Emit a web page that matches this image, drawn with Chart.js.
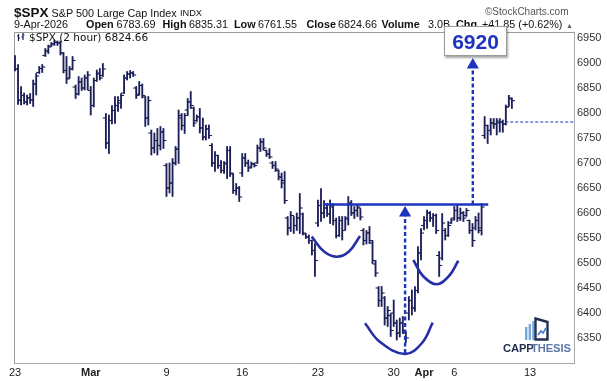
<!DOCTYPE html>
<html><head><meta charset="utf-8">
<script src="https://cdn.jsdelivr.net/npm/chart.js@4.4.1/dist/chart.umd.min.js"></script>
<style>
html,body{margin:0;padding:0;background:#fff;}
#wrap{position:relative;width:607px;height:381px;overflow:hidden;font-family:'Liberation Sans',Arial,sans-serif;}
#c{position:absolute;left:0;top:0;}
.t{position:absolute;white-space:nowrap;line-height:1;color:#111;}
#box{position:absolute;left:444px;top:26px;width:61px;height:28px;background:#fff;border:1px solid #9a9a9a;box-shadow:1px 2px 2px rgba(0,0,0,0.35);z-index:5;text-align:center;font:bold 21px 'Liberation Sans',Arial,sans-serif;color:#1e33c0;line-height:29px;}
</style></head><body>
<div id="wrap"><canvas id="c" width="607" height="381"></canvas>
<div id="box">6920</div>
<svg style="position:absolute;left:17px;top:33px" width="9" height="9"><path d="M1.5 1v7M0 3h1.5M1.5 5h1.5M6 0v7M4.5 4h1.5M6 2h1.5" stroke="#1a1d52" stroke-width="1.2" fill="none"/></svg>
<svg style="position:absolute;left:524px;top:317px" width="26" height="24">
<rect x="1" y="10" width="2.4" height="13" fill="#74a9dc"/><rect x="4.6" y="7" width="2.4" height="16" fill="#74a9dc"/><rect x="8.2" y="4" width="2.4" height="19" fill="#74a9dc"/>
<path d="M11.5 1.5L23.5 5v17.5h-12z" fill="none" stroke="#233050" stroke-width="2.4"/>
<path d="M14 18l3-4 2 2 3-5" fill="none" stroke="#3d7cc9" stroke-width="1.6"/>
</svg>
</div>
<script>
// ---------- data ----------
const tickIdx    = [0, 25, 50, 75, 100, 125, 135, 145, 170];
const tickLabels = ['23', 'Mar', '9', '16', '23', '30', 'Apr', '6', '13'];
const boldLabels = ['Mar', 'Apr'];
const yTicks = [6350, 6400, 6450, 6500, 6550, 6600, 6650, 6700, 6750, 6800, 6850, 6900, 6950];

// 2-hour bars, Feb 23 - Apr 9 2026 (5 bars per trading day)
const opens = [
 6900,6888,6826,6835,6822, 6830,6826,6858,6881,6889, 6915,6924,6934,6938,6941, 6940,6920,6885,6870,6888, 6852,6838,6862,6850,6870,
 6845,6815,6865,6878,6875, 6790,6740,6785,6805,6815, 6820,6840,6870,6878,6880, 6850,6838,6855,6832,6790, 6760,6730,6745,6735,6762,
 6695,6650,6660,6700,6728, 6790,6775,6806,6822,6810, 6785,6792,6770,6752,6768, 6735,6700,6715,6695,6685, 6700,6725,6678,6645,6650,
 6680,6710,6700,6692,6698, 6700,6730,6742,6725,6718, 6700,6695,6685,6672,6665, 6590,6570,6595,6575,6590, 6598,6558,6552,6545,6525,
 6580,6615,6600,6610,6598, 6612,6585,6555,6585,6565, 6590,6620,6600,6605,6610, 6565,6545,6560,6540,6498, 6450,6425,6430,6390,6395,
 6400,6380,6360,6380,6360, 6400,6425,6410,6445,6520, 6575,6585,6600,6590,6595, 6515,6510,6565,6555,6580,
 6590,6605,6590,6600,6595, 6585,6565,6570,6585,6565, 6755,6775,6765,6780,6778, 6783.69,6782,6778,6812,6828
];
const highs = [
 6915,6897,6853,6840,6836, 6839,6866,6879,6893,6897, 6929,6936,6941,6946,6944, 6944,6921,6913,6893,6913, 6856,6873,6870,6876,6883,
 6853,6870,6886,6889,6899, 6799,6796,6815,6833,6833, 6839,6876,6883,6885,6883, 6853,6863,6858,6833,6833, 6766,6760,6769,6773,6769,
 6699,6700,6709,6733,6806, 6799,6799,6829,6843,6812, 6796,6809,6790,6776,6776, 6739,6723,6716,6705,6703, 6733,6733,6679,6659,6653,
 6719,6719,6706,6702,6700, 6736,6749,6749,6726,6729, 6703,6703,6686,6680,6683, 6593,6603,6593,6600,6639, 6600,6559,6556,6546,6539,
 6626,6649,6625,6619,6626, 6619,6590,6593,6593,6593, 6633,6625,6613,6616,6609, 6569,6565,6573,6545,6505, 6453,6453,6433,6413,6399,
 6426,6386,6390,6393,6363, 6433,6446,6453,6533,6569, 6593,6606,6603,6599,6598, 6523,6599,6569,6583,6589,
 6613,6616,6610,6603,6609, 6586,6579,6593,6600,6619, 6793,6776,6789,6789,6789, 6789,6786,6816,6835.31,6830
];
const lows = [
 6884,6817,6816,6818,6816, 6819,6813,6836,6879,6881, 6913,6919,6933,6935,6935, 6916,6880,6859,6869,6886, 6829,6836,6845,6846,6846,
 6796,6812,6863,6866,6873, 6729,6719,6778,6779,6803, 6809,6839,6866,6870,6873, 6829,6836,6830,6773,6776, 6716,6720,6716,6726,6729,
 6633,6640,6633,6696,6699, 6766,6759,6795,6809,6773, 6783,6760,6746,6746,6749, 6693,6683,6689,6680,6679, 6669,6673,6639,6636,6623,
 6673,6693,6683,6690,6692, 6699,6723,6726,6713,6709, 6689,6683,6666,6650,6619, 6556,6563,6559,6565,6559, 6556,6549,6539,6516,6473,
 6573,6583,6590,6593,6579, 6576,6550,6553,6546,6566, 6576,6595,6589,6593,6586, 6536,6538,6539,6499,6473, 6413,6413,6376,6373,6353,
 6373,6346,6352,6359,6341, 6386,6396,6403,6440,6506, 6566,6569,6583,6573,6559, 6473,6506,6546,6553,6579,
 6586,6583,6585,6583,6593, 6559,6533,6566,6560,6556, 6749,6739,6756,6769,6756, 6762,6761.55,6776,6813,6809
];
const closes = [
 6888,6825,6835,6822,6830, 6826,6858,6874,6889,6892, 6924,6932,6938,6942,6940, 6920,6885,6868,6888,6905, 6838,6862,6850,6870,6876,
 6815,6865,6880,6870,6888, 6740,6785,6805,6815,6825, 6835,6870,6878,6880,6876, 6835,6855,6835,6790,6825, 6730,6745,6735,6762,6745,
 6650,6660,6700,6728,6795, 6775,6795,6822,6815,6780, 6792,6770,6752,6768,6755, 6700,6715,6695,6685,6698, 6725,6680,6645,6650,6632,
 6710,6700,6690,6698,6695, 6730,6742,6730,6718,6712, 6695,6688,6672,6660,6625, 6570,6595,6575,6590,6610, 6560,6552,6545,6525,6505,
 6615,6600,6610,6598,6615, 6585,6555,6585,6565,6588, 6620,6600,6605,6612,6592, 6545,6560,6545,6505,6480, 6425,6440,6390,6405,6365,
 6380,6360,6380,6365,6350, 6425,6410,6445,6520,6560, 6585,6600,6590,6595,6565, 6495,6580,6555,6575,6586,
 6605,6590,6600,6590,6605, 6565,6545,6585,6570,6612, 6775,6765,6780,6778,6780, 6782,6778,6812,6830,6824.66
];

// annotations (bar index, price)
const necklineX = [101.6, 156.2];
const necklineY = [6617, 6617];
const arrow1X = [128.75, 128.75];
const arrow1Y = [6320, 6598];
const arrow2X = [151.1, 151.1];
const arrow2Y = [6617, 6890];
const arrowHeadX = [128.75, 151.1];
const arrowHeadY = [6600, 6896];
const refLineX = [161.8, 184.5];
const refLineY = [6782, 6782];
const leftCupX = [97.93, 101.99, 106.18, 110.24, 113.87];
const leftCupY = [6552.6, 6523, 6512.6, 6523, 6554];
const bigCupX = [115.52, 120.47, 128.72, 134.33, 137.86];
const bigCupY = [6379.4, 6342, 6318, 6340, 6380.6];
const rightCupX = [131.46, 134.66, 139.18, 143.24, 146.31];
const rightCupY = [6506, 6474, 6457.4, 6474, 6504.6];

// ---------- text ----------
const wrap = document.getElementById('wrap');
function place(txt, x, base, size, opt) {
  opt = opt || {};
  const s = document.createElement('span');
  s.className = 't';
  s.textContent = txt;
  s.style.left = x + 'px';
  s.style.top = (base - 0.85 * size) + 'px';
  s.style.fontSize = size + 'px';
  if (opt.bold) s.style.fontWeight = 'bold';
  if (opt.color) s.style.color = opt.color;
  if (opt.family) s.style.fontFamily = opt.family;
  if (opt.ls) s.style.letterSpacing = opt.ls + 'px';
  wrap.appendChild(s);
  return s;
}
place('$SPX', 14, 17, 13.5, {bold: true});
place('S&P 500 Large Cap Index', 51.5, 17, 10.8);
place('INDX', 180, 17, 9.2);
place('\u00A9StockCharts.com', 485, 15, 10, {color: '#555'});
place('9-Apr-2026', 14, 28.5, 10.8);
place('Open', 86, 28.5, 10.8, {bold: true});
place('6783.69', 116.5, 28.5, 10.8);
place('High', 162.5, 28.5, 10.8, {bold: true});
place('6835.31', 189, 28.5, 10.8);
place('Low', 234, 28.5, 10.8, {bold: true});
place('6761.55', 258, 28.5, 10.8);
place('Close', 306.5, 28.5, 10.8, {bold: true});
place('6824.66', 338, 28.5, 10.8);
place('Volume', 381.5, 28.5, 10.8, {bold: true});
place('3.0B', 428, 28.5, 10.8);
place('Chg', 456, 28.5, 10.8, {bold: true});
place('+41.85 (+0.62%)', 482, 28.5, 10.8);
place('\u25B2', 566, 27.5, 7, {color: '#4a6a4a'});
place('$SPX (2 hour) 6824.66', 29, 41, 10.5, {family: "'DejaVu Sans', sans-serif"});
place('CAPP', 503, 352.5, 11.2, {bold: true, color: '#233050', ls: -0.1});
place('THESIS', 531, 352.5, 11.2, {bold: true, color: '#5b78a8', ls: -0.1});

// ---------- chart ----------
const ohlcColor = '#1c1f58';
const annoBlue = '#1e33c0';
const cupBlue = '#2630a6';
const idx = opens.map((_, i) => i);
const zip = (xs, ys) => xs.map((x, i) => ({x: x, y: ys[i]}));

const framePlugin = {
  id: 'frame',
  beforeDatasetsDraw(chart) {
    const a = chart.chartArea, ctx = chart.ctx;
    ctx.save();
    ctx.strokeStyle = '#9a9a9a';
    ctx.lineWidth = 1;
    ctx.beginPath();
    ctx.moveTo(a.left + 0.5, a.bottom);
    ctx.lineTo(a.left + 0.5, a.top + 0.5);
    ctx.lineTo(a.right, a.top + 0.5);
    ctx.stroke();
    ctx.restore();
  }
};

const lineDs = (data, color, width, extra) => Object.assign({
  type: 'line', data: data, borderColor: color, borderWidth: width,
  pointRadius: 0, fill: false, tension: 0, order: 1
}, extra || {});

new Chart(document.getElementById('c'), {
  type: 'bar',
  data: {
    datasets: [
      {type: 'bar', data: idx.map(i => ({x: i, y: [lows[i], highs[i]]})), backgroundColor: ohlcColor,
       borderWidth: 0, barThickness: 1.2, grouped: false, order: 5},
      {type: 'line', data: idx.map(i => ({x: i - 0.5, y: opens[i]})), showLine: false, pointStyle: 'line',
       pointRadius: 1.5, pointBorderWidth: 1.1, pointBorderColor: ohlcColor, order: 4},
      {type: 'line', data: idx.map(i => ({x: i + 0.5, y: closes[i]})), showLine: false, pointStyle: 'line',
       pointRadius: 1.5, pointBorderWidth: 1.1, pointBorderColor: ohlcColor, order: 4},
      lineDs(zip(necklineX, necklineY), annoBlue, 2.6),
      lineDs(zip(arrow1X, arrow1Y), annoBlue, 2.4, {borderDash: [4, 2.5]}),
      lineDs(zip(arrow2X, arrow2Y), annoBlue, 2.4, {borderDash: [4, 2.5]}),
      lineDs(zip(refLineX, refLineY), annoBlue, 1.2, {borderDash: [3, 2]}),
      lineDs(zip(leftCupX, leftCupY), cupBlue, 2.6, {tension: 0.4}),
      lineDs(zip(bigCupX, bigCupY), cupBlue, 2.6, {tension: 0.4}),
      lineDs(zip(rightCupX, rightCupY), cupBlue, 2.6, {tension: 0.4}),
      {type: 'line', data: zip(arrowHeadX, arrowHeadY), showLine: false, pointStyle: 'triangle',
       pointRadius: 7, pointBackgroundColor: annoBlue, pointBorderColor: annoBlue, pointBorderWidth: 0, order: 0}
    ]
  },
  options: {
    responsive: false,
    devicePixelRatio: 1,
    animation: false,
    events: [],
    layout: {padding: {left: 14, top: 32, right: 0, bottom: 0}},
    plugins: {legend: {display: false}, tooltip: {enabled: false}},
    scales: {
      x: {
        type: 'linear', position: 'bottom', min: -0.33, max: 184.5, offset: false,
        grid: {display: false, drawTicks: false, offset: false},
        border: {display: true, color: '#a8a8a8', width: 1, dash: [1, 1]},
        afterBuildTicks: s => { s.ticks = tickIdx.map(v => ({value: v})); },
        afterFit: s => { s.height = 18; },
        ticks: {
          autoSkip: false, maxRotation: 0, padding: 3, color: '#222',
          callback: v => tickLabels[tickIdx.indexOf(v)],
          font: c => ({family: "'Liberation Sans', Arial, sans-serif", size: 11,
            weight: (c.tick && boldLabels.includes(tickLabels[tickIdx.indexOf(c.tick.value)])) ? 'bold' : 'normal'})
        }
      },
      y: {
        type: 'linear', position: 'right', min: 6300, max: 6962, beginAtZero: false,
        grid: {display: false, drawTicks: false},
        border: {display: true, color: '#a8a8a8', width: 1, dash: [1, 1]},
        afterBuildTicks: s => { s.ticks = yTicks.map(v => ({value: v})); },
        afterFit: s => { s.width = 33; },
        ticks: {padding: 3, color: '#333', font: {family: "'Liberation Sans', Arial, sans-serif", size: 11},
          callback: v => String(v)}
      }
    }
  },
  plugins: [framePlugin]
});
</script>
</body></html>
